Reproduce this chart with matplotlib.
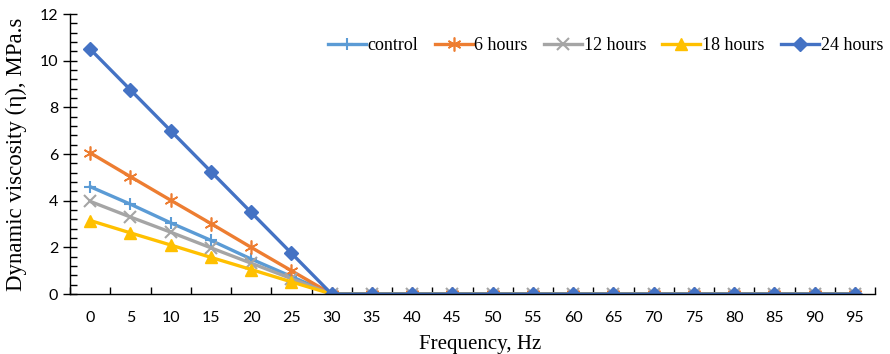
import numpy as np
import matplotlib
matplotlib.use('Agg')
import matplotlib.pyplot as plt
from matplotlib.ticker import MultipleLocator, FixedLocator

# Data
freq = ['0', '5', '10', '15', '20', '25', '30', '35', '40', '45',
        '50', '55', '60', '65', '70', '75', '80', '85', '90', '95']
tail = [0] * 14
control = [4.6, 3.85, 3.05, 2.3, 1.5, 0.75] + tail
h6 = [6.05, 5.03, 4.02, 3.02, 2.0, 1.0] + tail
h12 = [3.97, 3.3, 2.65, 1.98, 1.32, 0.66] + tail
h18 = [3.15, 2.62, 2.1, 1.57, 1.05, 0.52] + tail
h24 = [10.5, 8.75, 7.0, 5.25, 3.5, 1.75] + tail

fig = plt.figure(figsize=(8.9, 3.54), dpi=100)
ax = fig.add_axes([70/890, 60/354, 805/890, 280/354])

x = np.arange(len(freq))
ax.plot(x, control, color='#5B9BD5', lw=2.4, marker='+', ms=9, mew=1.5, label='control')
ax.plot(x, h6, color='#ED7D31', lw=2.4, marker=(6, 2, 0), ms=10, mew=1.2, label='6 hours')
ax.plot(x, h12, color='#A5A5A5', lw=2.4, marker='x', ms=8, mew=1.5, label='12 hours')
ax.plot(x, h18, color='#FFC000', lw=2.4, marker='^', ms=9, label='18 hours')
ax.plot(x, h24, color='#4472C4', lw=2.4, marker='D', ms=7, label='24 hours')

ax.set_xlim(-0.5, len(freq) - 0.5)
ax.set_ylim(0, 12)
ax.set_xticks(x)
ax.set_xticklabels(freq, fontsize=11.5, family='Lato')
ax.tick_params(axis='x', which='major', length=0, pad=12)
ax.xaxis.set_minor_locator(FixedLocator(np.arange(-0.5, len(freq), 1.0)))
ax.tick_params(axis='x', which='minor', direction='in', length=5, width=1)

ax.yaxis.set_major_locator(MultipleLocator(2))
ax.yaxis.set_minor_locator(MultipleLocator(0.4))
ax.tick_params(axis='y', which='major', direction='inout', length=10, width=1, labelsize=11.5)
ax.tick_params(axis='y', which='minor', direction='in', length=5, width=1)
for lab in ax.get_yticklabels():
    lab.set_family('Lato')

for s in ['top', 'right']:
    ax.spines[s].set_visible(False)
for s in ['left', 'bottom']:
    ax.spines[s].set_linewidth(1)
    ax.spines[s].set_color('black')

ax.set_xlabel('Frequency, Hz', fontsize=15, family='Liberation Serif')
ax.xaxis.set_label_coords(0.509, -0.145)
ax.set_ylabel('Dynamic viscosity (\u03b7), MPa.s', fontsize=16.5, family='Liberation Serif')
ax.yaxis.set_label_coords(-0.053, 0.5)

ax.legend(loc='upper right', ncol=5, frameon=False, bbox_to_anchor=(1.03, 0.975),
          prop={'family': 'Liberation Serif', 'size': 13},
          handlelength=2.1, handletextpad=0.1, columnspacing=0.9)

fig.savefig('out.png', dpi=100)
